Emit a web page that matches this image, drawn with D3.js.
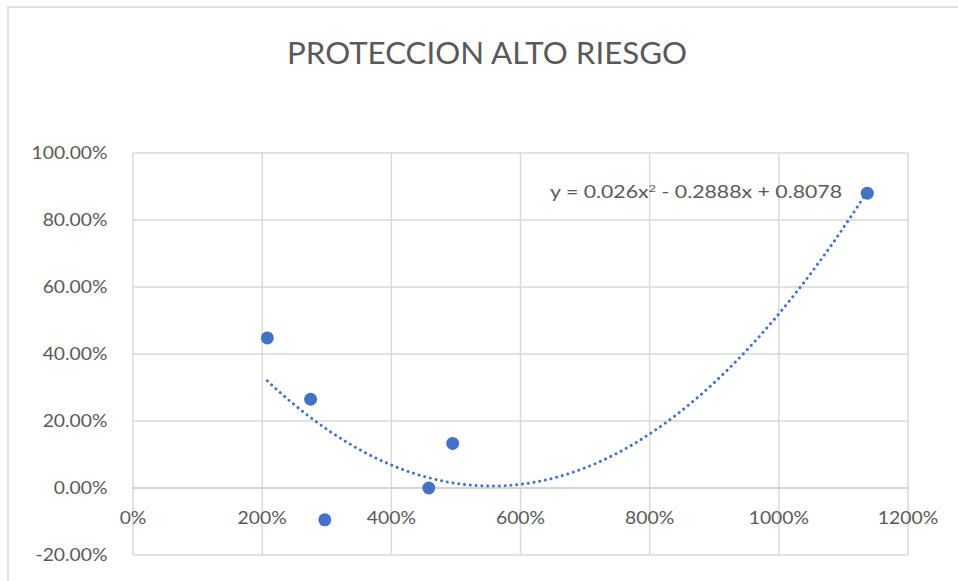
<!DOCTYPE html>
<html>
<head>
<meta charset="utf-8">
<script src="https://cdn.jsdelivr.net/npm/d3@7"></script>
<style>
  html, body { margin: 0; padding: 0; background: #ffffff; }
  svg { display: block; }
</style>
</head>
<body>
<svg id="chart" width="958" height="581"></svg>
<script>
// Scatter data: coverage ratio (x) versus rate (y), both as fractions
const xValues = [2.08, 2.75, 2.97, 4.58, 4.95, 11.37];
const yValues = [0.448, 0.265, -0.095, 0.0, 0.133, 0.88];

// Polynomial trendline coefficients (order 2)
const trendCoef = { a: 0.026, b: -0.2888, c: 0.8078 };

const xTicks = [0, 2, 4, 6, 8, 10, 12];
const yTicks = [-0.2, 0, 0.2, 0.4, 0.6, 0.8, 1.0];

const titleText = "PROTECCION ALTO RIESGO";

const svg = d3.select("#chart");
const W = 958, H = 581;
const plot = { left: 133, right: 908, top: 153, bottom: 555 };

const x = d3.scaleLinear().domain([0, 12]).range([plot.left, plot.right]);
const y = d3.scaleLinear().domain([-0.2, 1.0]).range([plot.bottom, plot.top]);

const gridColor = "#d9d9d9";
const textColor = "#595959";
const markColor = "#4472c4";
const fontFamily = "Lato, 'Open Sans', sans-serif";

// Plain hyphen for negative numbers
const locale = d3.formatLocale({ decimal: ".", thousands: ",", grouping: [3], currency: ["$", ""], minus: "-" });

// Stretch a text node horizontally by a factor
function stretch(sel, factor) {
  sel.each(function () {
    const len = this.getComputedTextLength();
    d3.select(this).attr("textLength", len * factor).attr("lengthAdjust", "spacingAndGlyphs");
  });
}

// Chart frame
svg.append("rect")
  .attr("x", 8).attr("y", 7)
  .attr("width", W + 20).attr("height", H + 20)
  .attr("fill", "#fff")
  .attr("stroke", gridColor).attr("stroke-width", 1.5);

// Title
const title = svg.append("text")
  .attr("x", (287 + 687) / 2).attr("y", 63.5)
  .attr("text-anchor", "middle")
  .attr("font-family", fontFamily)
  .attr("font-size", 30.5)
  .attr("fill", textColor)
  .text(titleText);
title.attr("textLength", 400).attr("lengthAdjust", "spacingAndGlyphs");

// Gridlines
const grid = svg.append("g");
grid.selectAll("line.h").data(yTicks).join("line")
  .attr("x1", plot.left).attr("x2", plot.right)
  .attr("y1", d => y(d)).attr("y2", d => y(d))
  .attr("stroke", gridColor).attr("stroke-width", 1.5);
grid.selectAll("line.v").data(xTicks).join("line")
  .attr("y1", plot.top).attr("y2", plot.bottom)
  .attr("x1", d => x(d)).attr("x2", d => x(d))
  .attr("stroke", gridColor).attr("stroke-width", 1.5);

// Horizontal axis line at zero
svg.append("line")
  .attr("x1", plot.left).attr("x2", plot.right)
  .attr("y1", y(0)).attr("y2", y(0))
  .attr("stroke", "#cfcfcf").attr("stroke-width", 1.5);

// Y axis labels
const yFmt = locale.format(".2%");
const yLab = svg.append("g").selectAll("text").data(yTicks).join("text")
  .attr("x", 107.5).attr("y", d => y(d) + 5.8)
  .attr("text-anchor", "end")
  .attr("font-family", fontFamily)
  .attr("font-size", 16.5)
  .attr("fill", textColor)
  .text(d => yFmt(d));
stretch(yLab, 1.17);

// X axis labels, placed just below the zero line
const xFmt = d => Math.round(d * 100) + "%";
const xLab = svg.append("g").selectAll("text").data(xTicks).join("text")
  .attr("x", d => x(d)).attr("y", y(0) + 35.5)
  .attr("text-anchor", "middle")
  .attr("font-family", fontFamily)
  .attr("font-size", 16.5)
  .attr("fill", textColor)
  .text(d => xFmt(d));
stretch(xLab, 1.17);

// Trendline from the fitted polynomial
const xMin = d3.min(xValues), xMax = d3.max(xValues);
const trendPts = d3.range(0, 201).map(i => {
  const xv = xMin + (xMax - xMin) * i / 200;
  return [xv, trendCoef.a * xv * xv + trendCoef.b * xv + trendCoef.c];
});
svg.append("path")
  .datum(trendPts)
  .attr("d", d3.line().x(d => x(d[0])).y(d => y(d[1])))
  .attr("fill", "none")
  .attr("stroke", markColor)
  .attr("stroke-width", 3)
  .attr("stroke-linecap", "round")
  .attr("stroke-dasharray", "0.01 5.8");

// Points
svg.append("g").selectAll("circle").data(xValues.map((v, i) => [v, yValues[i]])).join("circle")
  .attr("cx", d => x(d[0])).attr("cy", d => y(d[1]))
  .attr("r", 6.5)
  .attr("fill", markColor);

// Trendline equation
const eq = svg.append("text")
  .attr("x", 550).attr("y", 197.5)
  .attr("font-family", fontFamily)
  .attr("font-size", 16.5)
  .attr("fill", textColor);
eq.append("tspan").text("y = 0.026x");
eq.append("tspan").attr("font-size", 10).attr("dy", -6).text("2");
eq.append("tspan").attr("dy", 6).text(" - 0.2888x + 0.8078");
eq.attr("textLength", 292).attr("lengthAdjust", "spacingAndGlyphs");
</script>
</body>
</html>
